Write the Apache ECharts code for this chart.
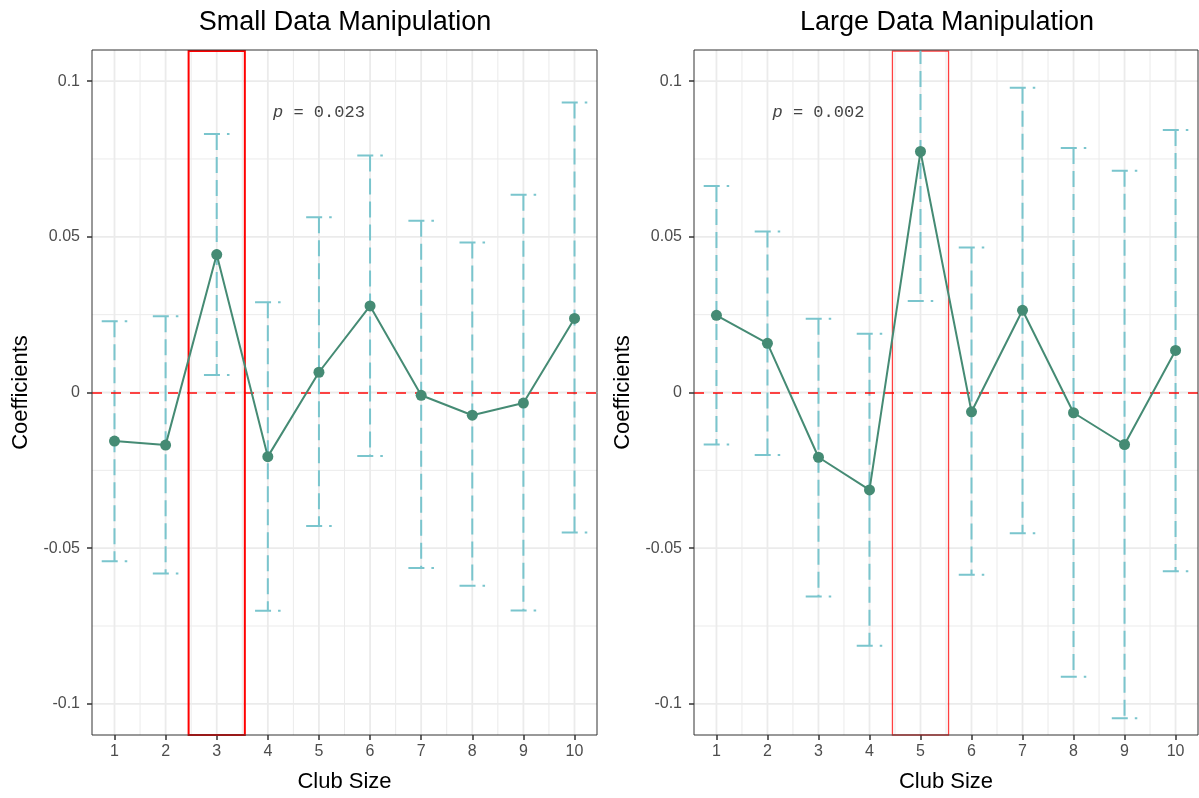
<!DOCTYPE html>
<html>
<head>
<meta charset="utf-8">
<script src="https://cdn.jsdelivr.net/npm/echarts@6/dist/echarts.min.js"></script>
<style>html,body{margin:0;padding:0;background:#fff}#c{width:1199px;height:798px}</style>
</head>
<body>
<div id="c"></div>
<script>
// ---- data ----
const clubSize = [1, 2, 3, 4, 5, 6, 7, 8, 9, 10];
const smallCoef  = [-0.0156, -0.0169, 0.0443, -0.0206, 0.0065, 0.0278, -0.0009, -0.0073, -0.0034, 0.0238];
const smallLower = [-0.0542, -0.0581, 0.0056, -0.0701, -0.0429, -0.0204, -0.0564, -0.0621, -0.0700, -0.0450];
const smallUpper = [0.0229, 0.0245, 0.0830, 0.0290, 0.0563, 0.0761, 0.0552, 0.0482, 0.0635, 0.0931];
const largeCoef  = [0.0248, 0.0158, -0.0208, -0.0313, 0.0774, -0.0062, 0.0264, -0.0065, -0.0167, 0.0135];
const largeLower = [-0.0167, -0.0201, -0.0655, -0.0813, 0.0294, -0.0585, -0.0452, -0.0913, -0.1046, -0.0574];
const largeUpper = [0.0663, 0.0517, 0.0237, 0.0189, 0.1254, 0.0466, 0.0979, 0.0785, 0.0712, 0.0843];
const yTicks = [-0.1, -0.05, 0, 0.05, 0.1];
const yTickLabels = ['-0.1', '-0.05', '0', '0.05', '0.1'];
const yMinor = [-0.075, -0.025, 0.025, 0.075];
const xMinor = [1.5, 2.5, 3.5, 4.5, 5.5, 6.5, 7.5, 8.5, 9.5];
const smallHighlight = [2.45, 3.55];
const largeHighlight = [4.45, 5.55];
const smallPText = { x: 5, y: 0.09, p: '0.023' };
const largePText = { x: 3, y: 0.09, p: '0.002' };
const panelTitles = ['Small Data Manipulation', 'Large Data Manipulation'];
const xRange = [0.56, 10.44];
const yRange = [-0.11, 0.11];

// ---- styles ----
const FONT = "'Liberation Sans', Arial, sans-serif";
const LINE_COLOR = '#458B74';
const ERR_COLOR = '#7AC5CD';

const chart = echarts.init(document.getElementById('c'));

function gridSeries(idx) {
  const common = { type: 'custom', xAxisIndex: idx, yAxisIndex: idx, silent: true, z: 0 };
  const vLine = (w) => (params, api) => {
    const cs = params.coordSys;
    const x = api.coord([api.value(0), 0])[0];
    return { type: 'line', shape: { x1: x, y1: cs.y, x2: x, y2: cs.y + cs.height },
      style: { stroke: '#ebebeb', lineWidth: w } };
  };
  const hLine = (w) => (params, api) => {
    const cs = params.coordSys;
    const y = api.coord([1, api.value(1)])[1];
    return { type: 'line', shape: { x1: cs.x, y1: y, x2: cs.x + cs.width, y2: y },
      style: { stroke: '#ebebeb', lineWidth: w } };
  };
  return [
    Object.assign({}, common, { data: xMinor.map(v => [v, 0]), renderItem: vLine(1) }),
    Object.assign({}, common, { data: yMinor.map(v => [1, v]), renderItem: hLine(1) }),
    Object.assign({}, common, { data: clubSize.map(v => [v, 0]), renderItem: vLine(1.8) }),
    Object.assign({}, common, { data: yTicks.map(v => [1, v]), renderItem: hLine(1.8) })
  ];
}

function borderSeries(idx) {
  return {
    type: 'custom', xAxisIndex: idx, yAxisIndex: idx, silent: true, z: 10,
    data: [[xRange[0], yRange[0]]],
    renderItem: (params) => {
      const cs = params.coordSys;
      return { type: 'rect', shape: { x: cs.x, y: cs.y, width: cs.width, height: cs.height },
        style: { fill: 'none', stroke: '#333333', lineWidth: 1 } };
    }
  };
}

function rectSeries(idx, range, width, color) {
  return {
    type: 'custom', xAxisIndex: idx, yAxisIndex: idx, silent: true, z: 3,
    data: [[range[0], range[1]]],
    renderItem: (params, api) => {
      const cs = params.coordSys;
      const x1 = api.coord([api.value(0), 0])[0];
      const x2 = api.coord([api.value(1), 0])[0];
      return { type: 'rect', shape: { x: x1, y: cs.y + 1, width: x2 - x1, height: cs.height - 1 },
        style: { fill: 'none', stroke: color, lineWidth: width } };
    }
  };
}

function errSeries(idx, lower, upper) {
  return {
    type: 'custom', xAxisIndex: idx, yAxisIndex: idx, silent: true, z: 4, clip: true,
    data: clubSize.map((c, i) => [c, lower[i], upper[i]]),
    renderItem: (params, api) => {
      const x = api.value(0);
      const lo = api.coord([x, api.value(1)]);
      const hi = api.coord([x, api.value(2)]);
      const l = api.coord([x - 0.25, 0])[0];
      const r = api.coord([x + 0.25, 0])[0];
      const st = { stroke: ERR_COLOR, lineWidth: 2, lineDash: [16, 7] };
      return { type: 'group', children: [
        { type: 'line', shape: { x1: l, y1: hi[1], x2: r, y2: hi[1] }, style: st },
        { type: 'line', shape: { x1: hi[0], y1: hi[1], x2: lo[0], y2: lo[1] }, style: st },
        { type: 'line', shape: { x1: l, y1: lo[1], x2: r, y2: lo[1] }, style: st }
      ] };
    }
  };
}

function lineSeries(idx, coef) {
  return {
    type: 'line', xAxisIndex: idx, yAxisIndex: idx, z: 6,
    data: clubSize.map((c, i) => [c, coef[i]]),
    symbol: 'circle', symbolSize: 11,
    lineStyle: { color: LINE_COLOR, width: 2 },
    itemStyle: { color: LINE_COLOR },
    silent: true, animation: false,
    markLine: {
      silent: true, symbol: 'none', animation: false,
      label: { show: false },
      lineStyle: { color: 'rgba(255,0,0,0.72)', width: 2, type: [10, 9] },
      data: [{ yAxis: 0 }],
      z: 5
    }
  };
}

function textSeries(idx, t) {
  return {
    type: 'custom', xAxisIndex: idx, yAxisIndex: idx, silent: true, z: 7,
    data: [[t.x, t.y]],
    renderItem: (params, api) => {
      const p = api.coord([api.value(0), api.value(1)]);
      return { type: 'text', x: p[0], y: p[1], style: {
        text: '{i|p}{m| = ' + t.p + '}',
        align: 'center', verticalAlign: 'middle',
        rich: {
          i: { fontFamily: "'Liberation Mono', monospace", fontStyle: 'italic', fontSize: 17, fill: '#444' },
          m: { fontFamily: "'Liberation Mono', monospace", fontSize: 17, fill: '#444' }
        }
      } };
    }
  };
}

function xAxis(idx) {
  return {
    type: 'value', gridIndex: idx, min: xRange[0], max: xRange[1],
    axisLine: { show: false, onZero: false },
    axisTick: { show: true, customValues: clubSize, length: 5, lineStyle: { color: '#333', width: 1.5 } },
    axisLabel: { customValues: clubSize, fontSize: 16, color: '#4d4d4d', margin: 9, fontFamily: FONT },
    splitLine: { show: false },
    name: 'Club Size', nameLocation: 'middle', nameGap: 36,
    nameTextStyle: { fontSize: 22, color: '#000', fontFamily: FONT }
  };
}

function yAxis(idx) {
  return {
    type: 'value', gridIndex: idx, min: yRange[0], max: yRange[1],
    axisLine: { show: false, onZero: false },
    axisTick: { show: true, customValues: yTicks, length: 5, lineStyle: { color: '#333', width: 1.5 } },
    axisLabel: { customValues: yTicks, fontSize: 16, color: '#4d4d4d', margin: 12, fontFamily: FONT,
      formatter: (v) => { const i = yTicks.findIndex(t => Math.abs(t - v) < 1e-9); return i >= 0 ? yTickLabels[i] : ''; } },
    splitLine: { show: false },
    name: 'Coefficients', nameLocation: 'middle', nameGap: 60, nameRotate: 90,
    nameTextStyle: { fontSize: 22, color: '#000', fontFamily: FONT }
  };
}

const option = {
  animation: false,
  backgroundColor: '#fff',
  title: [
    { text: panelTitles[0], left: 340, top: 4, textAlign: 'center',
      textStyle: { fontSize: 27, fontWeight: 'normal', color: '#000', fontFamily: FONT } },
    { text: panelTitles[1], left: 942, top: 4, textAlign: 'center',
      textStyle: { fontSize: 27, fontWeight: 'normal', color: '#000', fontFamily: FONT } }
  ],
  grid: [
    { left: 92, top: 50, width: 505, height: 685 },
    { left: 694, top: 50, width: 504, height: 685 }
  ],
  xAxis: [xAxis(0), xAxis(1)],
  yAxis: [yAxis(0), yAxis(1)],
  series: [
    ...gridSeries(0), ...gridSeries(1),
    rectSeries(0, smallHighlight, 2, '#ff0000'),
    rectSeries(1, largeHighlight, 1.3, 'rgba(255,0,0,0.75)'),
    errSeries(0, smallLower, smallUpper),
    errSeries(1, largeLower, largeUpper),
    lineSeries(0, smallCoef),
    lineSeries(1, largeCoef),
    textSeries(0, smallPText),
    textSeries(1, largePText),
    borderSeries(0), borderSeries(1)
  ]
};
chart.setOption(option);
</script>
</body>
</html>
